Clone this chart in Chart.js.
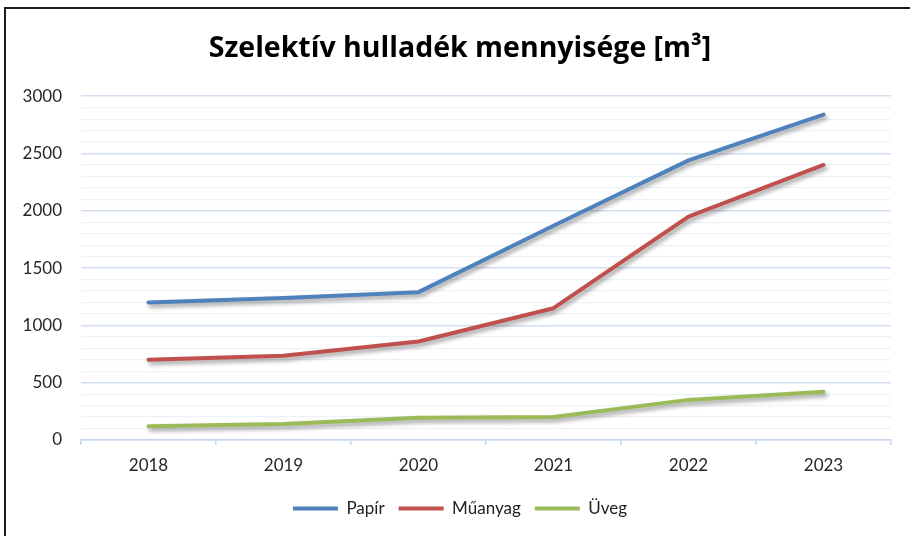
<!DOCTYPE html>
<html>
<head>
<meta charset="utf-8">
<script src="https://cdn.jsdelivr.net/npm/chart.js@4/dist/chart.umd.min.js"></script>
<style>
  html, body { margin: 0; padding: 0; background: #fff; }
  #frame { position: absolute; left: 4px; top: 7px; width: 1000px; height: 1000px;
           border-left: 2px solid #1c1c1c; border-top: 2px solid #1c1c1c; box-sizing: border-box; }
  #wrap { position: absolute; left: 0; top: 0; width: 910px; height: 536px; }
</style>
</head>
<body>
<div id="frame"></div>
<div id="wrap"><canvas id="c" width="910" height="536"></canvas></div>
<script>
const chartTitle = 'Szelektív hulladék mennyisége [m³]';
const years = ['2018', '2019', '2020', '2021', '2022', '2023'];
const seriesNames = ['Papír', 'Műanyag', 'Üveg'];
const papir = [1200, 1240, 1290, 1870, 2440, 2840];
const muanyag = [700, 735, 860, 1150, 1950, 2400];
const uveg = [120, 140, 195, 200, 350, 420];
const yTickLabels = [0, 500, 1000, 1500, 2000, 2500, 3000];

const colors = ['#4f81bd', '#c0504d', '#9bbb59'];
const FONT = 'Lato, "Open Sans", sans-serif';

const shadowPlugin = {
  id: 'lineShadow',
  beforeDatasetDraw(chart) {
    const ctx = chart.ctx;
    ctx.save();
    ctx.shadowColor = 'rgba(0,0,0,0.38)';
    ctx.shadowBlur = 4;
    ctx.shadowOffsetX = 2;
    ctx.shadowOffsetY = 3;
  },
  afterDatasetDraw(chart) {
    chart.ctx.restore();
  }
};

// centre the title and legend like the reference (slightly right of canvas centre)
const shiftPlugin = {
  id: 'shiftBlocks',
  afterLayout(chart) {
    if (chart.titleBlock) chart.titleBlock.left += 29;
    if (chart.legend) chart.legend.left += 29;
  }
};

const mk = (i, data) => ({
  label: seriesNames[i],
  data: data,
  borderColor: colors[i],
  backgroundColor: colors[i],
  borderWidth: 4,
  borderCapStyle: 'round',
  borderJoinStyle: 'round',
  pointRadius: 0,
  pointHoverRadius: 0,
  pointStyle: 'line',
  tension: 0,
  fill: false
});

new Chart(document.getElementById('c'), {
  type: 'line',
  data: {
    labels: years,
    datasets: [mk(0, papir), mk(1, muanyag), mk(2, uveg)]
  },
  plugins: [shadowPlugin, shiftPlugin],
  options: {
    responsive: false,
    animation: false,
    events: [],
    layout: { padding: { left: 0, right: 19, top: 0, bottom: 9 } },
    plugins: {
      title: {
        display: true,
        text: chartTitle,
        color: '#000',
        font: { family: '"Open Sans", Lato, sans-serif', size: 28.5, weight: 'bold' },
        padding: { top: 32, bottom: 30 },
        lineHeight: 1.2
      },
      legend: {
        display: true,
        position: 'bottom',
        labels: {
          usePointStyle: true,
          pointStyle: 'line',
          pointStyleWidth: 45,
          boxWidth: 45,
          boxHeight: 4,
          color: '#222',
          font: { family: FONT, size: 17 },
          padding: 14
        }
      },
      tooltip: { enabled: false }
    },
    scales: {
      x: {
        type: 'category',
        offset: true,
        grid: {
          offset: true,
          drawOnChartArea: false,
          drawTicks: true,
          tickLength: 5,
          color: '#c5d5ea',
          lineWidth: 1.5
        },
        border: { display: true, color: '#c5d5ea', width: 1.5 },
        ticks: {
          color: '#262626',
          font: { family: FONT, size: 17 },
          padding: 10,
          maxRotation: 0
        },
        afterFit(scale) { scale.height = 46; }
      },
      y: {
        min: 0,
        max: 3000,
        border: { display: false },
        grid: {
          drawTicks: false,
          color: ctx => (ctx.tick && ctx.tick.value % 500 === 0) ? '#d3dff0' : '#edf2f9',
          lineWidth: ctx => (ctx.tick && ctx.tick.value % 500 === 0) ? 1.6 : 1.2
        },
        ticks: {
          stepSize: 100,
          autoSkip: false,
          color: '#262626',
          font: { family: FONT, size: 17 },
          padding: 19,
          callback: v => yTickLabels.includes(v) ? String(v) : ''
        },
        afterFit(scale) { scale.width = 81; }
      }
    }
  }
});
</script>
</body>
</html>
